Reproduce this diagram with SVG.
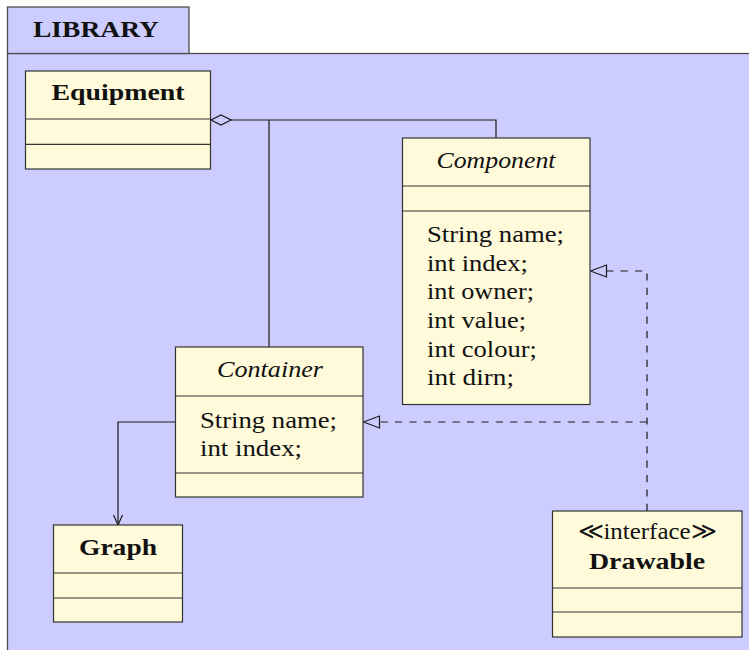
<svg xmlns="http://www.w3.org/2000/svg" width="749" height="650" viewBox="0 0 749 650">
  <defs>
    <style>
      .pkg { fill: #CCCCFF; stroke: #4d4d4d; stroke-width: 1.3; }
      .box { fill: #FFFAD9; stroke: #333; stroke-width: 1.2; }
      .sep { stroke: #333; stroke-width: 1.2; fill: none; }
      text { font-family: 'Liberation Serif', 'DejaVu Serif', serif; font-size: 24px; fill: #111; }
      .b { font-weight: bold; }
      .i { font-style: italic; }
      .mid { text-anchor: middle; }
      .conn { stroke: #1a1a1a; stroke-width: 1.2; fill: none; }
      .dash { stroke-dasharray: 7.2 7.2; }
    </style>
    <!-- hollow triangle for realization -->
    <marker id="realize" markerWidth="19" markerHeight="14" refX="17" refY="7" orient="auto" markerUnits="userSpaceOnUse">
      <path d="M1,1 L17,7 L1,13 Z" fill="#CCCCFF" stroke="#1a1a1a" stroke-width="1.2"/>
    </marker>
    <!-- open arrow for association -->
    <marker id="open" markerWidth="14" markerHeight="12" refX="11" refY="6" orient="auto" markerUnits="userSpaceOnUse">
      <path d="M1,1.5 L11,6 L1,10.5" fill="none" stroke="#1a1a1a" stroke-width="1.2"/>
    </marker>
    <!-- hollow diamond for aggregation -->
    <marker id="agg" markerWidth="24" markerHeight="12" refX="21" refY="6" orient="auto" markerUnits="userSpaceOnUse">
      <path d="M1,6 L11,1 L21,6 L11,11 Z" fill="#CCCCFF" stroke="#1a1a1a" stroke-width="1.2"/>
    </marker>
  </defs>

  <!-- package frame -->
  <g id="library">
    <rect class="pkg" x="7.5" y="53.5" width="760" height="620"/>
    <rect class="pkg" x="7.5" y="7" width="181.5" height="46.5"/>
    <text class="b mid" x="96" y="37" textLength="126" lengthAdjust="spacingAndGlyphs">LIBRARY</text>
  </g>

  <!-- connectors -->
  <g id="connectors">
    <path class="conn" d="M496,138 V120 H211" marker-end="url(#agg)"/>
    <path class="conn" d="M269,347 V120"/>
    <path class="conn" d="M175,422 H118 V525" marker-end="url(#open)"/>
    <path class="conn dash" d="M647,511 V271 H590.5" marker-end="url(#realize)"/>
    <path class="conn dash" d="M647,422 H363.5" marker-end="url(#realize)"/>
  </g>

  <g id="equipment">
    <rect class="box" x="25.5" y="71" width="185" height="98"/>
    <path class="sep" d="M25.5,119 H210.5 M25.5,144.3 H210.5"/>
    <text class="b mid" x="118" y="100" textLength="133" lengthAdjust="spacingAndGlyphs">Equipment</text>
  </g>

  <g id="component">
    <rect class="box" x="402.5" y="138" width="187.5" height="266.5"/>
    <path class="sep" d="M402.5,186 H590 M402.5,211 H590"/>
    <text class="i mid" x="496" y="168" textLength="119" lengthAdjust="spacingAndGlyphs">Component</text>
    <text x="427" y="242" textLength="137" lengthAdjust="spacingAndGlyphs">String name;</text>
    <text x="427" y="270.5" textLength="101" lengthAdjust="spacingAndGlyphs">int index;</text>
    <text x="427" y="299" textLength="107" lengthAdjust="spacingAndGlyphs">int owner;</text>
    <text x="427" y="328" textLength="99" lengthAdjust="spacingAndGlyphs">int value;</text>
    <text x="427" y="356.5" textLength="110" lengthAdjust="spacingAndGlyphs">int colour;</text>
    <text x="427" y="385" textLength="87" lengthAdjust="spacingAndGlyphs">int dirn;</text>
  </g>

  <g id="container">
    <rect class="box" x="175.5" y="347" width="187.5" height="150"/>
    <path class="sep" d="M175.5,396 H363 M175.5,473 H363"/>
    <text class="i mid" x="270" y="377" textLength="106" lengthAdjust="spacingAndGlyphs">Container</text>
    <text x="200" y="428" textLength="137" lengthAdjust="spacingAndGlyphs">String name;</text>
    <text x="200" y="456" textLength="102" lengthAdjust="spacingAndGlyphs">int index;</text>
  </g>

  <g id="graph">
    <rect class="box" x="53.5" y="525" width="129" height="97"/>
    <path class="sep" d="M53.5,573 H182.5 M53.5,598 H182.5"/>
    <text class="b mid" x="118" y="555" textLength="78" lengthAdjust="spacingAndGlyphs">Graph</text>
  </g>

  <g id="drawable">
    <rect class="box" x="552.5" y="511" width="189.5" height="126"/>
    <path class="sep" d="M552.5,588 H742 M552.5,612 H742"/>
    <text class="mid" x="647" y="539" textLength="139" lengthAdjust="spacingAndGlyphs">≪interface≫</text>
    <text class="b mid" x="647" y="569" textLength="116" lengthAdjust="spacingAndGlyphs">Drawable</text>
  </g>
</svg>
